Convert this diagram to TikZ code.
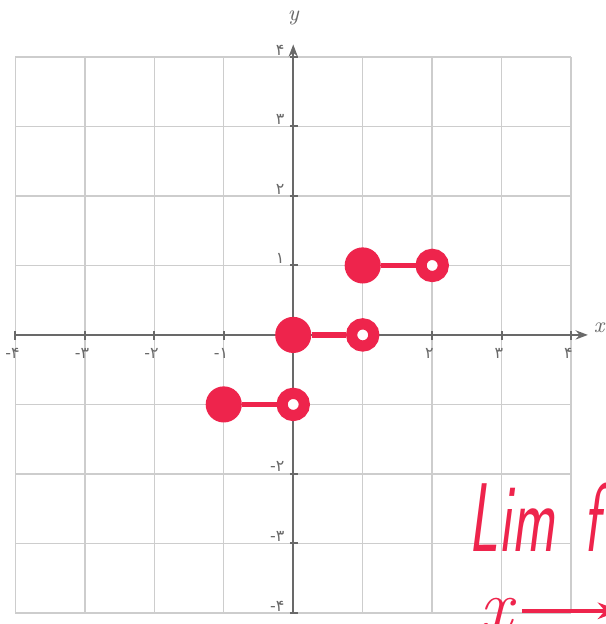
\documentclass[tikz,border=0pt]{standalone}
\usepackage{fontspec}
\usepackage{tikz}
\usetikzlibrary{arrows.meta,positioning}
\newfontfamily\fadigits{DejaVu Sans}
\definecolor{penred}{RGB}{238,36,76}
\definecolor{gridgray}{RGB}{205,205,205}
\definecolor{axisgray}{RGB}{105,105,105}

\begin{document}
\begin{tikzpicture}[
  soliddot/.style={circle, fill=penred, inner sep=0pt, minimum size=0.52cm},
  hollowdot/.style={circle, draw=penred, line width=0.16cm, fill=white, inner sep=0pt, minimum size=0.32cm},
  stepline/.style={penred, line width=0.08cm},
  ticklabel/.style={font=\fadigits\fontsize{6.5}{6.5}\selectfont, text=axisgray, inner sep=0pt},
  axislabel/.style={font=\small\itshape, text=axisgray, inner sep=0pt},
  handwriting/.style={text=penred, font=\sffamily\itshape\fontsize{40}{40}\selectfont, inner sep=0pt}]
  \useasboundingbox (-4.22,-4.16) rectangle (4.5,4.82);
  \fill[white] (-4.22,-4.16) rectangle (4.5,4.82);
  \clip (-4.22,-4.16) rectangle (4.5,4.82);
  % Grid
  \draw[gridgray, line width=0.6pt] (-4,-4) grid (4,4);
  % Axes
  \coordinate (xmin) at (-4,0);
  \coordinate (xmax) at (4.24,0);
  \coordinate (ymin) at (0,-4);
  \coordinate (ymax) at (0,4.18);
  \draw[axisgray, line width=0.8pt, -{Stealth[length=5pt]}] (xmin) -- (xmax);
  \draw[axisgray, line width=0.8pt, -{Stealth[length=5pt]}] (ymin) -- (ymax);
  \node[axislabel] (xlab) at (4.4,0.1) {x};
  \node[axislabel] (ylab) at (0,4.56) {y};
  % Ticks
  \foreach \i in {-4,...,-1,1,2,3,4} {
    \draw[axisgray, line width=0.8pt] (\i,0.05) -- (\i,-0.07);
    \draw[axisgray, line width=0.8pt] (-0.05,\i) -- (0.07,\i);
  }
  % Persian digits (the ones under the dots are hidden)
  \foreach \i/\d in {-4/-۴, -3/-۳, -2/-۲, -1/-۱, 2/۲, 3/۳, 4/۴}
    \node[ticklabel] (xt\i) at (\i-0.04,-0.27) {\d};
  \foreach \i/\d in {-4/-۴, -3/-۳, -2/-۲, 1/۱, 2/۲, 3/۳, 4/۴}
    \node[ticklabel, anchor=east] (yt\i) at (-0.12,\i+0.1) {\d};
  % Step function pieces
  \node[soliddot] (s1) at (-1,-1) {};
  \node[hollowdot] (h1) at (0,-1) {};
  \node[soliddot] (s2) at (0,0) {};
  \node[hollowdot] (h2) at (1,0) {};
  \node[soliddot] (s3) at (1,1) {};
  \node[hollowdot] (h3) at (2,1) {};
  \draw[stepline] (s1) -- (h1);
  \draw[stepline] (s2) -- (h2);
  \draw[stepline] (s3) -- (h3);
  % Handwritten note
  \node[handwriting, anchor=base west] (lim) at (2.52,-3.12) {\scalebox{0.6}[1]{Lim\, f(}};
  \node[handwriting, anchor=base west, font=\itshape\fontsize{30}{30}\selectfont] (var) at (2.68,-4.25) {x};
  \coordinate (arrowend) at (4.7,-3.97);
  \draw[penred, line width=1.6pt, -{Stealth[length=9pt]}] (var.east |- arrowend) ++(0.12,0) coordinate (arrowstart) -- (arrowend);
\end{tikzpicture}
\end{document}
